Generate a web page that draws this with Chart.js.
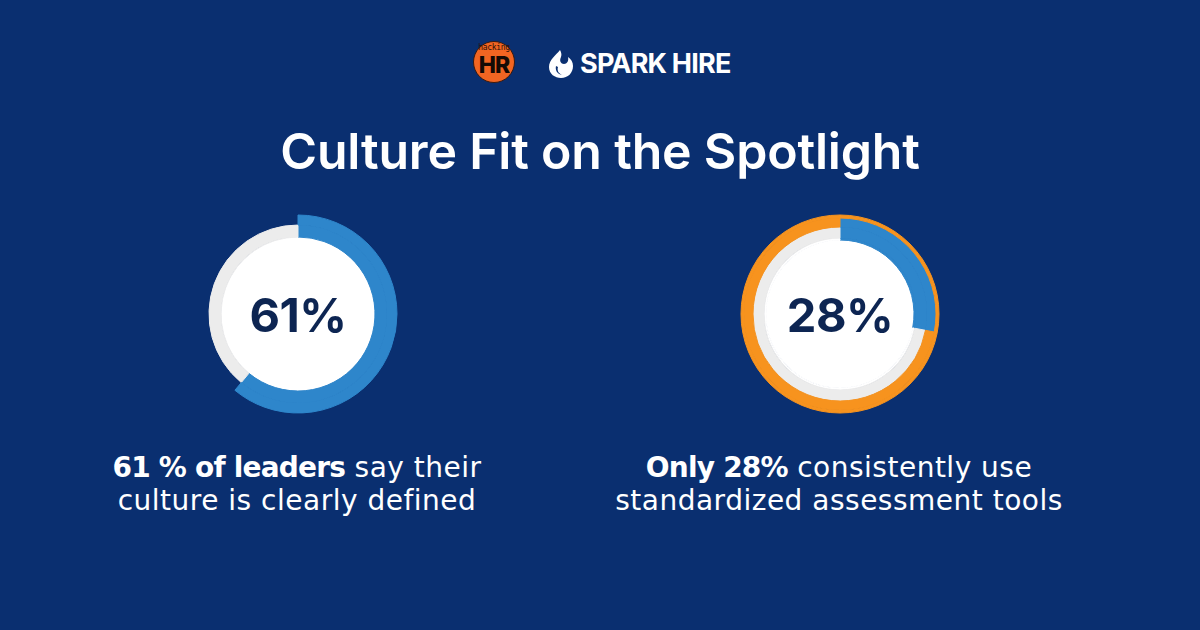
<!DOCTYPE html>
<html>
<head>
<meta charset="utf-8">
<script src="https://cdn.jsdelivr.net/npm/chart.js@4/dist/chart.umd.min.js"></script>
<style>
  html, body { margin: 0; padding: 0; }
  body { width: 1200px; height: 630px; background: #0a2f70; position: relative; overflow: hidden; font-family: Inter, "Noto Sans", sans-serif; }
  .abs { position: absolute; }
  #title { left: 0; width: 1200px; top: 121px; text-align: center; color: #fff; font-size: 50px; font-weight: 600; letter-spacing: -0.2px; }
  .ring { position: absolute; width: 220px; height: 220px; }
  .pct { position: absolute; width: 220px; text-align: center; color: #0d2552; font-size: 47px; font-weight: 700; letter-spacing: -0.5px; }
  .cap { position: absolute; width: 560px; height: 33px; text-align: center; color: #fff; font-family: "DejaVu Sans", sans-serif; font-size: 28px; line-height: 33px; letter-spacing: 0.5px; white-space: nowrap; }
  .cap b { font-weight: 700; letter-spacing: -0.8px; }
  #hr { left: 473px; top: 41px; width: 40px; height: 40px; border-radius: 50%; background: #f26522; border: 1px solid #3a1a10; }
  #hr .small { position: absolute; left: 0; width: 40px; top: 1px; text-align: center; font-family: "DejaVu Sans Mono", monospace; font-size: 8px; line-height: 9px; color: #2a1208; letter-spacing: -0.3px; }
  #hr .big { position: absolute; left: 0; width: 40px; top: 10px; text-align: center; font-family: Inter, sans-serif; font-weight: 800; font-size: 23px; line-height: 26px; color: #140a05; letter-spacing: -1px; }
  #spark { left: 580px; top: 47px; color: #fff; font-size: 27px; font-weight: 700; letter-spacing: -0.8px; }
</style>
</head>
<body>
<div id="hr" class="abs"><div class="small">hacking</div><div class="big">HR</div></div>
<svg class="abs" style="left:547px;top:49px" width="28" height="30" viewBox="0 0 28 30">
  <path d="M13 1 C 9 6, 2 11, 2 18 C 2 25, 8 29, 14 29 C 21 29, 26 24, 26 17 C 26 13, 24 10, 21 8 C 22 12, 20 15, 17 15 C 14 15, 12 12, 14 8 C 15 5, 14 3, 13 1 Z" fill="#fff"/>
  <path d="M9 17 C 8 21, 10 25, 15 26 C 11 24, 10 21, 11 18 Z" fill="#0a2f70"/>
</svg>
<div id="spark" class="abs">SPARK HIRE</div>
<div id="title" class="abs">Culture Fit on the Spotlight</div>

<canvas id="ringLeft" class="ring" width="220" height="220" style="left:188px;top:204px"></canvas>
<canvas id="ringRight" class="ring" width="220" height="220" style="left:730px;top:204px"></canvas>
<div id="pctLeft" class="pct" style="left:188px;top:286px"></div>
<div id="pctRight" class="pct" style="left:730px;top:286px"></div>

<div class="cap" style="left:17px;top:451px"><b>61 % of leaders</b> say their</div>
<div class="cap" style="left:17px;top:484px">culture is clearly defined</div>
<div class="cap" style="left:559px;top:451px"><b>Only 28%</b> consistently use</div>
<div class="cap" style="left:559px;top:484px">standardized assessment tools</div>

<script>
const labels = ['Left', 'Right'];
const percents = [61, 28];
const centerText = ['61%', '28%'];

const blue = '#2e86cb';
const orange = '#f7931e';
const track = '#ececec';
const white = '#ffffff';
const clear = 'rgba(0,0,0,0)';

document.getElementById('pctLeft').textContent = centerText[0];
document.getElementById('pctRight').textContent = centerText[1];

// one ring split into value / rest
function ring(pct, colors, weight) {
	return {
		data: [pct, 100 - pct],
		backgroundColor: colors,
		borderColor: colors,
		borderWidth: 1,
		weight: weight
	};
}

// one solid ring (or disc)
function solid(color, weight) {
	return {
		data: [100],
		backgroundColor: [color],
		borderColor: [color],
		borderWidth: 1,
		weight: weight
	};
}

function makeChart(id, datasets) {
	return new Chart(document.getElementById(id), {
		type: 'doughnut',
		data: { labels: ['value', 'rest'], datasets: datasets },
		options: {
			responsive: false,
			animation: false,
			events: [],
			radius: 99,
			cutout: 0,
			layout: { padding: 0 },
			plugins: { legend: { display: false }, tooltip: { enabled: false } }
		}
	});
}

// left: blue arc over a light grey track
makeChart('ringLeft', [
	ring(percents[0], [blue, clear], 10),
	ring(percents[0], [blue, track], 12),
	solid(white, 77)
]);

// right: orange outer ring, blue arc sitting on top
makeChart('ringRight', [
	solid(orange, 3),
	ring(percents[1], [blue, orange], 9),
	ring(percents[1], [blue, track], 11),
	ring(percents[1], [blue, white], 2),
	solid(white, 74)
]);
</script>
</body>
</html>
